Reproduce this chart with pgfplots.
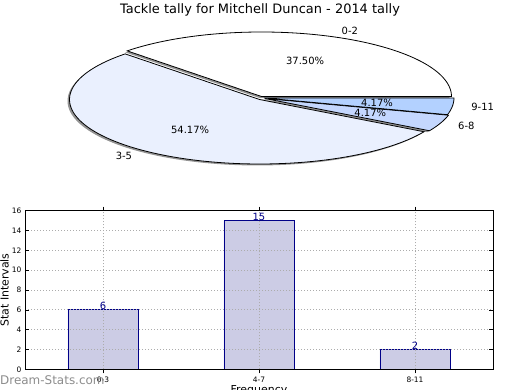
\documentclass[border=0pt]{standalone}
\usepackage{pgfplots}
\pgfplotsset{compat=1.18}
\usepackage{pgfplotstable}
\usepackage{fontspec}
\setmainfont{DejaVu Sans}
\definecolor{sA}{HTML}{FFFFFF}
\definecolor{sB}{HTML}{EAF0FE}
\definecolor{sC}{HTML}{C4D7FE}
\definecolor{sD}{HTML}{B3D1FF}
\definecolor{barfill}{HTML}{CCCCE5}
\definecolor{baredge}{HTML}{000088}

\pgfplotstableread{
label count
0-2 9
3-5 13
6-8 1
9-11 1
}\piedata

\pgfplotstableread{
interval value
0-3 6
4-7 15
8-11 2
}\bardata

\pgfplotstablegetelem{0}{count}\of\piedata\edef\cA{\pgfplotsretval}
\pgfplotstablegetelem{1}{count}\of\piedata\edef\cB{\pgfplotsretval}
\pgfplotstablegetelem{2}{count}\of\piedata\edef\cC{\pgfplotsretval}
\pgfplotstablegetelem{3}{count}\of\piedata\edef\cD{\pgfplotsretval}

% explode offsets (axis units)
\def\dxA{0}\def\dyA{0}
\def\dxB{-0.0105}\def\dyB{-0.0465}
\def\dxC{0.018}\def\dyC{-0.031}
\def\dxD{0.013}\def\dyD{-0.023}
\def\shx{-0.0105}\def\shy{-0.023}

\pgfmathsetmacro\tot{\cA+\cB+\cC+\cD}
\pgfmathsetmacro\aA{0}
\pgfmathsetmacro\aB{\aA+360*\cA/\tot}
\pgfmathsetmacro\aC{\aB+360*\cB/\tot}
\pgfmathsetmacro\aD{\aC+360*\cC/\tot}
\pgfmathsetmacro\aE{\aD+360*\cD/\tot}
\pgfmathsetmacro\mA{(\aA+\aB)/2}
\pgfmathsetmacro\mB{(\aB+\aC)/2}
\pgfmathsetmacro\mC{(\aC+\aD)/2}
\pgfmathsetmacro\mD{(\aD+\aE)/2}
\pgfmathsetmacro\pA{100*\cA/\tot}
\pgfmathsetmacro\pB{100*\cB/\tot}
\pgfmathsetmacro\pC{100*\cC/\tot}
\pgfmathsetmacro\pD{100*\cD/\tot}
\pgfmathsetmacro\lxA{\dxA+1.1*cos(\mA)}\pgfmathsetmacro\lyA{\dyA+1.1*sin(\mA)}
\pgfmathsetmacro\lxB{\dxB+1.1*cos(\mB)}\pgfmathsetmacro\lyB{\dyB+1.1*sin(\mB)}
\pgfmathsetmacro\lxC{\dxC+1.1*cos(\mC)}\pgfmathsetmacro\lyC{\dyC+1.1*sin(\mC)}
\pgfmathsetmacro\lxD{\dxD+1.1*cos(\mD)}\pgfmathsetmacro\lyD{\dyD+1.1*sin(\mD)}
\pgfmathsetmacro\qxA{\dxA+0.6*cos(\mA)}\pgfmathsetmacro\qyA{\dyA+0.6*sin(\mA)}
\pgfmathsetmacro\qxB{\dxB+0.6*cos(\mB)}\pgfmathsetmacro\qyB{\dyB+0.6*sin(\mB)}
\pgfmathsetmacro\qxC{\dxC+0.6*cos(\mC)}\pgfmathsetmacro\qyC{\dyC+0.6*sin(\mC)}
\pgfmathsetmacro\qxD{\dxD+0.6*cos(\mD)}\pgfmathsetmacro\qyD{\dyD+0.6*sin(\mD)}

\newcommand{\pct}[1]{\pgfmathprintnumber[fixed,fixed zerofill,precision=2,assume math mode=true]{#1}\%}

\newcommand{\slice}[5]{%
  \addplot[fill=#5, draw=black, line width=0.8bp, line join=miter, domain=#1:#2, samples=90, variable=\t]
    ({#3+cos(\t)},{#4+sin(\t)}) -- (axis cs:#3,#4) -- cycle;}
\newcommand{\shadow}[4]{%
  \addplot[fill=black!42, draw=none, domain=#1:#2, samples=90, variable=\t]
    ({#3+\shx+cos(\t)},{#4+\shy+sin(\t)}) -- (axis cs:#3+\shx,#4+\shy) -- cycle;}

\begin{document}
\begin{tikzpicture}
\useasboundingbox (0,0) rectangle (520bp,-390bp);

\node[font=\fontsize{13}{15}\selectfont] at (260bp,-10bp) {Tackle tally for Mitchell Duncan - 2014 tally};

\begin{axis}[at={(0,0)}, anchor=north west, x=190bp, y=64.5bp,
  xmin=-1.3763, xmax=1.3605, ymin=-1.4496, ymax=1.4961,
  hide axis, clip=false]
  \shadow{\aA}{\aB}{\dxA}{\dyA}
  \shadow{\aB}{\aC}{\dxB}{\dyB}
  \shadow{\aC}{\aD}{\dxC}{\dyC}
  \shadow{\aD}{\aE}{\dxD}{\dyD}
  \slice{\aA}{\aB}{\dxA}{\dyA}{sA}
  \slice{\aB}{\aC}{\dxB}{\dyB}{sB}
  \slice{\aC}{\aD}{\dxC}{\dyC}{sC}
  \slice{\aD}{\aE}{\dxD}{\dyD}{sD}
  \begin{scope}[every node/.style={font=\fontsize{10}{12}\selectfont, inner sep=0pt}]
  \node[anchor=west] at (axis cs:\lxA,\lyA) {0-2};
  \node[anchor=east] at (axis cs:\lxB,\lyB) {3-5};
  \node[anchor=west] at (axis cs:\lxC,\lyC) {6-8};
  \node[anchor=west] at (axis cs:\lxD,\lyD) {9-11};
  \node at (axis cs:\qxA,\qyA) {\pct{\pA}};
  \node at (axis cs:\qxB,\qyB) {\pct{\pB}};
  \node at (axis cs:\qxC,\qyC) {\pct{\pC}};
  \node at (axis cs:\qxD,\qyD) {\pct{\pD}};
  \end{scope}
\end{axis}

\begin{axis}[at={(25bp,-210.7bp)}, anchor=north west, width=468bp, height=158.6bp, scale only axis,
  xmin=-0.5, xmax=2.5, ymin=0, ymax=16,
  xtick={0,1,2}, xticklabels={0-3,4-7,8-11},
  ytick={0,2,...,16},
  /pgf/number format/assume math mode=true,
  tick label style={font=\fontsize{7.5}{9}\selectfont},
  tick align=inside, major tick length=4bp,
  every tick/.style={black, line width=0.6bp},
  axis line style={line width=0.9bp},
  grid=major, grid style={gray!65, line width=0.8bp, dash pattern=on 1bp off 2bp},
  axis on top,
  ylabel={Stat Intervals}, xlabel={Frequency},
  ylabel style={at={(axis description cs:-0.0438,0.5)}, anchor=center, font=\fontsize{11}{13}\selectfont},
  xlabel style={at={(axis description cs:0.5,-0.099)}, anchor=north, inner sep=0pt, font=\fontsize{11}{13}\selectfont},
  ybar, bar width=0.449,
  nodes near coords,
  every node near coord/.append style={font=\fontsize{10}{12}\selectfont, color=baredge, inner sep=0pt},
  clip=false]
  \addplot[fill=barfill, draw=baredge, line width=0.8bp] table[x expr=\coordindex, y=value]{\bardata};
\end{axis}

\node[anchor=west, inner sep=0pt, text=black!45, font=\fontsize{12}{14}\selectfont] at (0bp,-380bp) {Dream-Stats.com};
\end{tikzpicture}
\end{document}
